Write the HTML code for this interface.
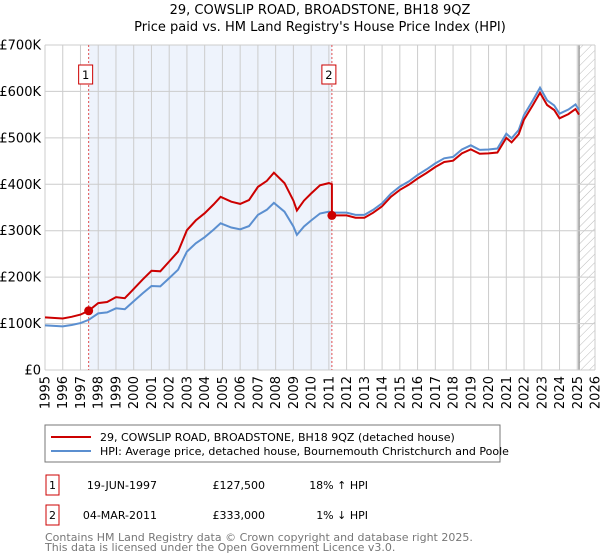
<!DOCTYPE html>
<html><head><meta charset="utf-8"><style>
body{margin:0;background:#fff;}
svg{display:block;font-family:"DejaVu Sans","Liberation Sans",sans-serif;}
</style></head><body>
<svg id="chart" width="600" height="560" xmlns="http://www.w3.org/2000/svg">
<defs><pattern id="hatch" width="6" height="6" patternUnits="userSpaceOnUse" patternTransform="rotate(45)"><line x1="0" y1="0" x2="0" y2="6" stroke="#bbb" stroke-width="1"/></pattern></defs>
<text x="320" y="14" text-anchor="middle" font-size="13">29, COWSLIP ROAD, BROADSTONE, BH18 9QZ</text>
<text x="320" y="31" text-anchor="middle" font-size="13">Price paid vs. HM Land Registry's House Price Index (HPI)</text>
<g id="plot"></g>
<rect x="45" y="425" width="455" height="37" fill="#fff" stroke="#777"/>
<line x1="51" y1="437" x2="91" y2="437" stroke="#cc0000" stroke-width="2"/>
<text x="100" y="441" font-size="11">29, COWSLIP ROAD, BROADSTONE, BH18 9QZ (detached house)</text>
<line x1="51" y1="451" x2="91" y2="451" stroke="#5b8fd0" stroke-width="2"/>
<text x="100" y="455" font-size="11">HPI: Average price, detached house, Bournemouth Christchurch and Poole</text>
<g font-size="11">
<rect x="46" y="475" width="13" height="20" fill="#fff" stroke="#cc0000"/>
<text x="52.5" y="489" text-anchor="middle">1</text>
<text x="157" y="489" text-anchor="end">19-JUN-1997</text>
<text x="265" y="489" text-anchor="end">£127,500</text>
<text x="368" y="489" text-anchor="end">18% ↑ HPI</text>
</g>
<g font-size="11">
<rect x="46" y="505" width="13" height="20" fill="#fff" stroke="#cc0000"/>
<text x="52.5" y="519" text-anchor="middle">2</text>
<text x="157" y="519" text-anchor="end">04-MAR-2011</text>
<text x="265" y="519" text-anchor="end">£333,000</text>
<text x="368" y="519" text-anchor="end">1% ↓ HPI</text>
</g>
<text x="45" y="541" font-size="11" fill="#777">Contains HM Land Registry data © Crown copyright and database right 2025.</text>
<text x="45" y="551" font-size="11" fill="#777">This data is licensed under the Open Government Licence v3.0.</text>
</svg>
<script>
const hpiYears=[1995,1996,1996.5,1997,1997.46,1998,1998.5,1999,1999.5,2000,2000.5,2001,2001.5,2002,2002.5,2003,2003.5,2004,2004.5,2004.9,2005.5,2006,2006.5,2007,2007.5,2007.9,2008.5,2009,2009.2,2009.6,2010,2010.5,2011,2011.17,2012,2012.5,2013,2013.5,2014,2014.5,2015,2015.5,2016,2016.5,2017,2017.5,2018,2018.5,2019,2019.5,2020,2020.5,2021,2021.3,2021.7,2022,2022.5,2022.9,2023.3,2023.7,2024,2024.5,2024.9,2025.1];
const hpiValues=[96,94,97,101,108,122,124,133,131,148,165,181,180,198,216,255,273,286,302,316,307,303,310,334,345,360,341,309,291,309,322,337,341,339,339,334,334,345,359,380,395,406,420,432,445,456,459,475,484,474,475,477,509,499,517,549,581,608,581,570,552,561,572,560];
const saleYears=[1997.46,2011.17];
const salePrices=[127.5,333];
const saleLabels=["1","2"];
const yTicks=[0,100,200,300,400,500,600,700];
const yTickLabels=["£0","£100K","£200K","£300K","£400K","£500K","£600K","£700K"];
const xTicks=[];for(let y=1995;y<=2026;y++)xTicks.push(y);

const X0=45,X1=595,Y0=370,Y1=45,YR0=1995,YR1=2026,VMAX=700;
const xs=v=>X0+(v-YR0)*(X1-X0)/(YR1-YR0);
const ys=v=>Y0-v*(Y0-Y1)/VMAX;
const NS="http://www.w3.org/2000/svg";
const g=document.getElementById('plot');
function mk(t,a){const e=document.createElementNS(NS,t);for(const k in a)e.setAttribute(k,a[k]);g.appendChild(e);return e;}

let e=mk('rect',{x:xs(saleYears[0]),y:Y1,width:xs(saleYears[1])-xs(saleYears[0]),height:Y0-Y1,fill:'#eef3fc'});


e=mk('rect',{x:xs(2025.1),y:Y1,width:X1-xs(2025.1),height:Y0-Y1,fill:'url(#hatch)'});


e=mk('line',{x1:xs(2025.1),y1:Y1,x2:xs(2025.1),y2:Y0,stroke:'#999','stroke-width':1.5});



xTicks.forEach(t=>{
 const l=mk('line',{x1:xs(t),y1:Y1,x2:xs(t),y2:Y0,stroke:'#ccc','stroke-width':1});
 
 
 const tx=mk('text',{x:0,y:0,'font-size':13,'text-anchor':'end',transform:`translate(${xs(t)+4.5},${Y0+6}) rotate(-90)`});
 tx.textContent=t;
 
 
});
yTicks.forEach((t,i)=>{
 const l=mk('line',{x1:X0,y1:ys(t),x2:X1,y2:ys(t),stroke:'#ccc','stroke-width':1});
 
 
 const tx=mk('text',{x:X0-4,y:ys(t)+4.5,'font-size':13,'text-anchor':'end'});
 tx.textContent=yTickLabels[i];
 
 
});
saleYears.forEach((sy,i)=>{
 const l=mk('line',{x1:xs(sy),y1:Y1,x2:xs(sy),y2:Y0,stroke:'#e05050','stroke-width':1,'stroke-dasharray':'2,2'});
 
 
});
const interp=yr=>{for(let i=0;i<hpiYears.length-1;i++){if(yr<=hpiYears[i+1])return hpiValues[i]+(hpiValues[i+1]-hpiValues[i])*(yr-hpiYears[i])/(hpiYears[i+1]-hpiYears[i]);}return hpiValues[hpiValues.length-1];};
let d=hpiYears.map((yr,i)=>(i?'L':'M')+xs(yr).toFixed(1)+','+ys(hpiValues[i]).toFixed(1)).join('');
e=mk('path',{d:d,fill:'none',stroke:'#5b8fd0','stroke-width':2});


const r1=salePrices[0]/interp(saleYears[0]),r2=salePrices[1]/interp(saleYears[1]);
let pts=[];
hpiYears.forEach((yr,i)=>{if(yr<saleYears[1])pts.push([yr,hpiValues[i]*r1]);});
pts.push([saleYears[1],interp(saleYears[1])*r1]);
pts.push([saleYears[1],salePrices[1]]);
hpiYears.forEach((yr,i)=>{if(yr>saleYears[1])pts.push([yr,hpiValues[i]*r2]);});
d=pts.map((p,i)=>(i?'L':'M')+xs(p[0]).toFixed(1)+','+ys(p[1]).toFixed(1)).join('');
e=mk('path',{d:d,fill:'none',stroke:'#cc0000','stroke-width':2});


saleYears.forEach((sy,i)=>{
 const c=mk('circle',{cx:xs(sy),cy:ys(salePrices[i]),r:4.5,fill:'#cc0000'});
 
 
 const r=mk('rect',{x:xs(sy)-10,y:65,width:14,height:19,fill:'#fff',stroke:'#cc0000'});
 
 
 const t=mk('text',{x:xs(sy)-3,y:79,'font-size':11.5,'text-anchor':'middle'});
 t.textContent=saleLabels[i];
 
 
});
</script>
</body></html>
